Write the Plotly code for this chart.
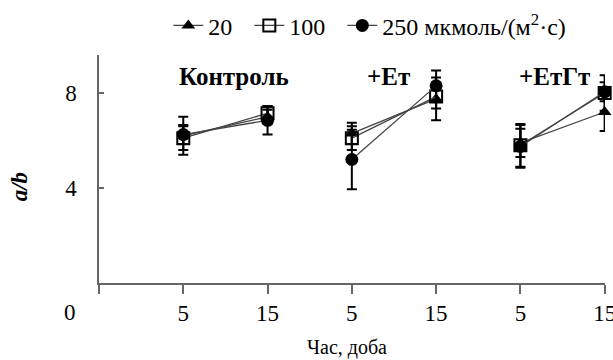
import plotly.graph_objects as go

# positions of the six time points along the x axis (0 = origin)
positions = [1, 2, 3, 4, 5, 6]
tick_labels = ["5", "15", "5", "15", "5", "15"]
groups = ["Контроль", "+Ет", "+ЕтГт"]
series_names = ["20", "100", "250 мкмоль/(м<sup>2</sup>·с)"]

# a/b values (6 points: Контроль 5,15; +Ет 5,15; +ЕтГт 5,15)
val_20 = [6.2, 7.0, 6.3, 7.75, 5.9, 7.2]
err_20 = [0.8, 0.3, 0.45, 0.9, 0.6, 0.8]
val_100 = [6.1, 7.15, 6.1, 7.85, 5.8, 8.0]
err_100 = [0.5, 0.3, 0.5, 0.5, 0.9, 0.75]
val_250 = [6.25, 6.85, 5.2, 8.3, 5.75, 8.05]
err_250 = [0.4, 0.6, 1.25, 0.65, 0.9, 0.4]

FONT = "Liberation Serif, Times New Roman, DejaVu Serif, serif"
NB = "\u00a0"
series = [
    (series_names[0] + NB * 2, val_20, err_20, dict(symbol="triangle-up", size=12, color="black")),
    (series_names[1] + NB * 2, val_100, err_100, dict(symbol="square-open", size=12, color="black", line=dict(width=2, color="black"))),
    (series_names[2], val_250, err_250, dict(symbol="circle", size=13, color="black")),
]

fig = go.Figure()
for si, (name, vals, errs, marker) in enumerate(series):
    for g in range(3):
        i0, i1 = 2 * g, 2 * g + 2
        fig.add_trace(go.Scatter(
            x=positions[i0:i1], y=vals[i0:i1],
            mode="lines+markers",
            name=name, legendgroup=name, showlegend=(g == 0),
            line=dict(color="#444444", width=1.3),
            marker=marker,
            error_y=dict(type="data", array=errs[i0:i1], color="black", thickness=2, width=5),
            cliponaxis=False,
        ))

group_x = [1.6, 3.43, 5.41]
for name, gx in zip(groups, group_x):
    fig.add_annotation(x=gx, y=8.69, xref="x", yref="y", text="<b>%s</b>" % name,
                       xanchor="center", yanchor="middle",
                       showarrow=False, font=dict(family=FONT, size=25, color="black"))

fig.add_annotation(x=0, y=-0.13, xref="x", yref="paper", text="0", xshift=-29,
                   xanchor="center", yanchor="middle",
                   showarrow=False, font=dict(family=FONT, size=23, color="black"))
fig.add_annotation(x=-0.158, y=0.42, xref="paper", yref="paper", text="<b><i>a/b</i></b>",
                   xanchor="center", yanchor="middle",
                   textangle=-90, showarrow=False, font=dict(family=FONT, size=23, color="black"))
fig.add_annotation(x=0.49, y=-0.282, xref="paper", yref="paper", text="Час, доба",
                   xanchor="center", yanchor="middle",
                   showarrow=False, font=dict(family=FONT, size=20, color="black"))

fig.update_layout(
    width=613, height=360,
    margin=dict(l=99, r=8, t=55, b=77, autoexpand=False),
    plot_bgcolor="white", paper_bgcolor="white",
    font=dict(family=FONT, size=23, color="black"),
    legend=dict(orientation="h", x=0.137, xanchor="left", y=1.128, yanchor="middle",
                font=dict(family=FONT, size=24), itemwidth=30, tracegroupgap=0,
                bgcolor="rgba(0,0,0,0)"),
    xaxis=dict(range=[0, 6.004], tickvals=[0] + positions, ticktext=[""] + tick_labels,
               showline=True, linecolor="#666666", linewidth=1.5, ticks="outside",
               ticklen=9, tickcolor="#666666", tickwidth=1.5, showgrid=False, zeroline=False,
               ticklabelstandoff=0, ticklabeloverflow="allow", automargin=False,
               tickfont=dict(family=FONT, size=23)),
    yaxis=dict(range=[0, 9.6], tickvals=[4, 8], showline=True, linecolor="#666666",
               linewidth=1.5, ticks="inside", ticklen=5, tickcolor="#666666", tickwidth=1.5,
               showgrid=False, zeroline=False, ticklabelstandoff=16, automargin=False,
               tickfont=dict(family=FONT, size=23)),
)
fig.write_html("out.html")
